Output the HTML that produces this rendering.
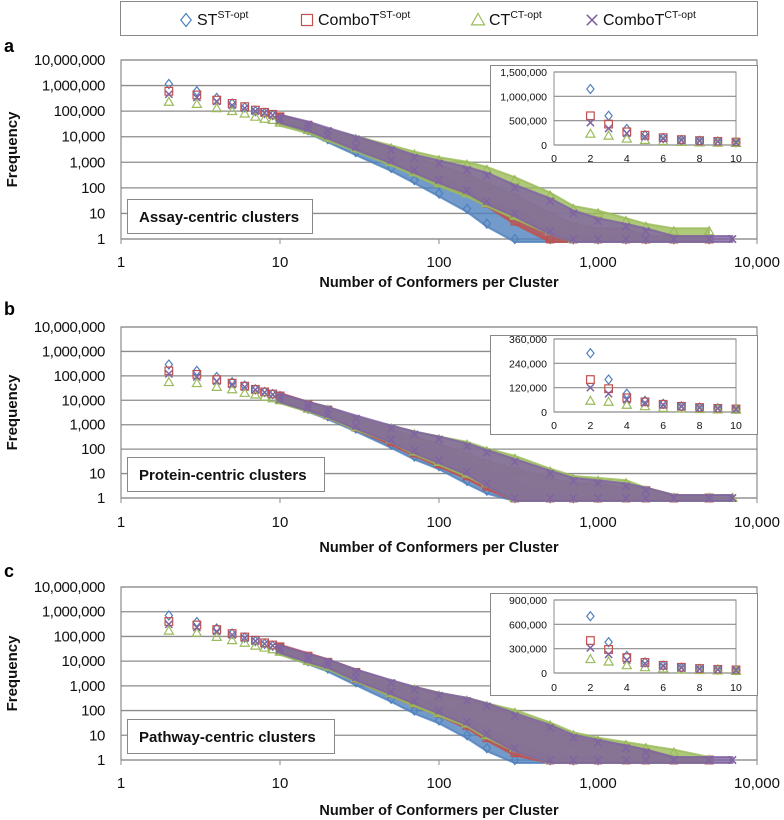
<!DOCTYPE html>
<html><head><meta charset="utf-8">
<style>
body{margin:0;background:#fff;}
svg{display:block;font-family:"Liberation Sans",sans-serif;}
</style></head>
<body>
<svg id="fig" width="784" height="820" viewBox="0 0 784 820"></svg>
<script>
// ---------- data ----------
const headSizes = [2,3,4,5,6,7,8,9,10];
const tailSizes = [10,15,20,30,50,70,100,150,200,300,500,700,1000,1500,2000,3000,5000,7000];
const seriesNames = ["ST","ComboT_ST","CT","ComboT_CT"];

// panel a (assay-centric)
const aHeadST = [1150000,600000,330000,200000,140000,100000,85000,70000,55000];
const aHeadCST = [600000,430000,270000,200000,150000,110000,90000,75000,60000];
const aHeadCT = [230000,190000,130000,100000,80000,60000,50000,45000,40000];
const aHeadCCT = [460000,340000,240000,170000,130000,100000,85000,70000,55000];
const aHiST = [55000,25000,12000,5000,1500,600,250,80,30,10,2,1,1,1,1,1,1,null];
const aLoST = [45000,18000,8000,2500,600,200,60,15,4,1,1,1,1,1,1,1,1,null];
const aHiCST = [55000,28000,15000,7000,2500,1200,600,250,120,40,8,3,2,2,1,1,1,null];
const aLoCST = [50000,22000,11000,4000,1200,500,200,70,25,5,1,1,1,1,1,1,1,null];
const aHiCT = [45000,25000,15000,8000,3500,2000,1200,800,500,200,50,15,10,5,3,2,2,null];
const aLoCT = [35000,18000,9000,3500,1000,400,150,60,25,8,2,1,1,1,1,1,1,null];
const aHiCCT = [55000,30000,17000,8000,3000,1500,900,500,300,100,30,10,5,3,2,1,1,1];
const aLoCCT = [45000,22000,11000,4000,1200,500,200,80,30,10,2,1,1,1,1,1,1,1];

// panel b (protein-centric)
const bHeadST = [290000,160000,90000,55000,40000,28000,22000,18000,15000];
const bHeadCST = [160000,115000,70000,50000,38000,28000,22000,18000,15000];
const bHeadCT = [55000,50000,35000,28000,20000,17000,14000,12000,11000];
const bHeadCCT = [120000,90000,60000,45000,35000,27000,21000,17000,14000];
const bHiST = [14000,6000,3500,1200,350,150,70,25,10,3,1,1,null,null,null,null,null,null];
const bLoST = [11000,4500,2200,700,150,50,20,5,2,1,1,1,null,null,null,null,null,null];
const bHiCST = [15000,6500,4000,1500,500,250,120,50,25,12,5,3,3,2,2,1,1,null];
const bLoCST = [12000,5000,2500,800,200,70,25,8,3,1,1,1,1,1,1,1,1,null];
const bHiCT = [12000,6000,4000,1600,700,400,250,150,80,40,12,6,5,4,2,1,1,1];
const bLoCT = [10000,4500,2500,800,250,80,30,10,4,1,1,1,1,1,1,1,1,1];
const bHiCCT = [14000,6500,4000,1800,700,400,250,130,70,30,10,5,4,3,2,1,1,1];
const bLoCCT = [11000,5000,2700,900,250,90,35,12,4,1,1,1,1,1,1,1,1,1];

// panel c (pathway-centric)
const cHeadST = [700000,380000,210000,130000,90000,65000,50000,42000,35000];
const cHeadCST = [400000,290000,190000,130000,95000,70000,55000,45000,38000];
const cHeadCT = [170000,140000,95000,70000,55000,42000,35000,30000,25000];
const cHeadCCT = [310000,230000,160000,115000,85000,65000,50000,42000,35000];
const cHiST = [32000,14000,8000,2500,700,300,120,40,15,4,1,1,1,null,null,null,null,null];
const cLoST = [26000,10000,5000,1400,300,100,40,10,3,1,1,1,1,null,null,null,null,null];
const cHiCST = [35000,16000,9000,3500,1200,600,350,200,120,50,15,6,4,3,2,1,1,null];
const cLoCST = [30000,12000,6500,2000,500,200,80,25,8,2,1,1,1,1,1,1,1,null];
const cHiCT = [28000,13000,8000,3200,1200,700,400,250,150,80,25,10,6,4,3,2,1,null];
const cLoCT = [24000,10000,6000,2000,500,200,80,30,10,3,1,1,1,1,1,1,1,null];
const cHiCCT = [33000,15000,9000,3500,1300,700,400,250,150,60,20,8,5,3,2,1,1,1];
const cLoCCT = [28000,12000,7000,2200,600,250,100,35,12,3,1,1,1,1,1,1,1,1];

const yTickLabels = ["1","10","100","1,000","10,000","100,000","1,000,000","10,000,000"];
const xTickLabels = ["1","10","100","1,000","10,000"];
const insetXTicks = [0,2,4,6,8,10];
const aInsetTicks = [0,500000,1000000,1500000];
const bInsetTicks = [0,120000,240000,360000];
const cInsetTicks = [0,300000,600000,900000];

const colors = ["#4F81BD","#C0504D","#9BBB59","#8064A2"];

const panels = [
 {id:"a",letter:"a",top:60,bottom:239,letterY:52,titleY:287,tickY:267,label:"Assay-centric clusters",lab:[127,199,185,34],
  inset:{box:[490,65,267,97],y0:145,yTop:72,xl:162},insetTicks:aInsetTicks,
  heads:[aHeadST,aHeadCST,aHeadCT,aHeadCCT],hi:[aHiST,aHiCST,aHiCT,aHiCCT],lo:[aLoST,aLoCST,aLoCT,aLoCCT]},
 {id:"b",letter:"b",top:327,bottom:498,letterY:315,titleY:552,tickY:527,label:"Protein-centric clusters",lab:[127,457,197,34],
  inset:{box:[490,335,267,99],y0:412,yTop:339,xl:429},insetTicks:bInsetTicks,
  heads:[bHeadST,bHeadCST,bHeadCT,bHeadCCT],hi:[bHiST,bHiCST,bHiCT,bHiCCT],lo:[bLoST,bLoCST,bLoCT,bLoCCT]},
 {id:"c",letter:"c",top:587,bottom:760,letterY:577,titleY:815,tickY:788,label:"Pathway-centric clusters",lab:[127,719,207,34],
  inset:{box:[490,593,267,102],y0:673,yTop:600,xl:691},insetTicks:cInsetTicks,
  heads:[cHeadST,cHeadCST,cHeadCT,cHeadCCT],hi:[cHiST,cHiCST,cHiCT,cHiCCT],lo:[cLoST,cLoCST,cLoCT,cLoCCT]}
];

// ---------- drawing ----------
const NS="http://www.w3.org/2000/svg";
const svg=document.getElementById("fig");
function mk(tag,attrs,parent){const e=document.createElementNS(NS,tag);for(const k in attrs)e.setAttribute(k,attrs[k]);(parent||svg).appendChild(e);return e;}
function txt(s,attrs,parent){const e=mk("text",attrs,parent);e.textContent=s;return e;}

const X0=121,X1=757;
function xLog(v){return X0+(X1-X0)*Math.log10(v)/4;}

function marker(g,i,x,y,r){
 r=r||4.5;
 const c=colors[i];let e;
 if(i===0){e=mk("polygon",{points:`${x},${y-r} ${x+r*0.8},${y} ${x},${y+r} ${x-r*0.8},${y}`,fill:"none",stroke:c,"stroke-width":1.2},g);}
 else if(i===1){e=mk("rect",{x:x-r*0.85,y:y-r*0.85,width:r*1.7,height:r*1.7,fill:"none",stroke:c,"stroke-width":1.2},g);}
 else if(i===2){e=mk("polygon",{points:`${x},${y-r} ${x+r},${y+r*0.75} ${x-r},${y+r*0.75}`,fill:"none",stroke:c,"stroke-width":1.2},g);}
 else{const q=r*0.8;e=mk("path",{d:`M${x-q},${y-q}L${x+q},${y+q}M${x+q},${y-q}L${x-q},${y+q}`,stroke:c,"stroke-width":1.5},g);}
 
 
}

// legend
const leg=mk("g",{});


mk("rect",{x:120.5,y:1.5,width:637,height:34,fill:"#fff",stroke:"#888"},leg);
const legItems=[[186,"ST","ST-opt"],[307,"ComboT","ST-opt"],[478,"CT","CT-opt"],[592,"ComboT","CT-opt"]];
legItems.forEach((it,i)=>{
 const g=mk("g",{},leg);
 
 
 marker(g,i,it[0],20,6.5);
 const t=txt("",{x:it[0]+11,y:25,"font-size":16,fill:"#111"},g);
 const a=document.createElementNS(NS,"tspan");a.textContent=it[1];t.appendChild(a);
 const b=document.createElementNS(NS,"tspan");b.textContent=it[2];b.setAttribute("font-size","10.5");b.setAttribute("dy","-7");t.appendChild(b);
});

panels.forEach(P=>{
 const g=mk("g",{});
 
 
 const yLog=v=>P.bottom-(P.bottom-P.top)*Math.log10(v)/7;
 txt(P.letter,{x:4,y:P.letterY,"font-size":18,"font-weight":"bold"},g);
 yTickLabels.forEach((l,k)=>{
  const y=P.bottom-(P.bottom-P.top)*k/7;
  const gl=mk("line",{x1:X0,x2:X1,y1:y,y2:y,stroke:"#8c8c8c","stroke-width":1.3},g);
  
  
  const t=txt(l,{x:105,y:y+5,"font-size":15,"text-anchor":"end",fill:"#111","letter-spacing":"-0.4"},g);
  
  
 });
 mk("rect",{x:X0,y:P.top,width:X1-X0,height:P.bottom-P.top,fill:"none",stroke:"#8c8c8c","stroke-width":1.2},g);
 xTickLabels.forEach((l,k)=>{
  const x=X0+(X1-X0)*k/4;
  mk("line",{x1:x,x2:x,y1:P.bottom,y2:P.bottom+5,stroke:"#8c8c8c"},g);
  const t=txt(l,{x:x,y:P.tickY,"font-size":15,"text-anchor":"middle",fill:"#111"},g);
  
  
 });
 const xt=txt("Number of Conformers per Cluster",{x:439,y:P.titleY,"font-size":14.5,"font-weight":"bold","text-anchor":"middle",fill:"#111"},g);
 
 
 const ym=(P.top+P.bottom)/2;
 const yt=txt("Frequency",{x:0,y:0,"font-size":15,"font-weight":"bold","text-anchor":"middle",transform:`translate(17,${ym}) rotate(-90)`,fill:"#111"},g);
 
 

 for(let i=0;i<4;i++){
  const sg=mk("g",{},g);
  
  
  const hi=P.hi[i],lo=P.lo[i];
  const top=[],bot=[];
  tailSizes.forEach((s,k)=>{ if(hi[k]!=null){top.push([xLog(s),yLog(hi[k])]);bot.push([xLog(s),yLog(lo[k])]);} });
  const pts=top.map(p=>[p[0],p[1]-3]).concat(bot.reverse().map(p=>[p[0],p[1]+3]));
  const band=mk("polygon",{points:pts.map(p=>p.join(",")).join(" "),fill:colors[i],"fill-opacity":0.8,stroke:colors[i],"stroke-width":2,"stroke-opacity":0.8},sg);
  
  
  tailSizes.forEach((s,k)=>{ if(hi[k]!=null){marker(sg,i,xLog(s),yLog(hi[k]));marker(sg,i,xLog(s),yLog(lo[k]));} });
  P.heads[i].forEach((v,k)=>marker(sg,i,xLog(headSizes[k]),yLog(v)));
 }

 const lb=mk("g",{},g);
 
 
 mk("rect",{x:P.lab[0]+.5,y:P.lab[1]+.5,width:P.lab[2],height:P.lab[3],fill:"#fff",stroke:"#888"},lb);
 txt(P.label,{x:P.lab[0]+12,y:P.lab[1]+23,"font-size":15,"font-weight":"bold",fill:"#111"},lb);

 const I=P.inset;
 const ig=mk("g",{},g);
 
 
 mk("rect",{x:I.box[0]+.5,y:I.box[1]+.5,width:I.box[2],height:I.box[3],fill:"#fff",stroke:"#888"},ig);
 const ix0=554,ix1=736;
 const ixs=v=>ix0+(ix1-ix0)*v/10;
 const maxT=P.insetTicks[P.insetTicks.length-1];
 const iys=v=>I.y0-(I.y0-I.yTop)*v/maxT;
 P.insetTicks.forEach(v=>{
  const y=iys(v);
  mk("line",{x1:ix0,x2:ix1,y1:y,y2:y,stroke:"#8c8c8c","stroke-width":1.2},ig);
  const t=txt(v.toLocaleString("en-US"),{x:ix0-7,y:y+4,"font-size":10.5,"text-anchor":"end",fill:"#111"},ig);
  
  
 });
 mk("rect",{x:ix0,y:I.yTop,width:ix1-ix0,height:I.y0-I.yTop,fill:"none",stroke:"#8c8c8c"},ig);
 insetXTicks.forEach(v=>{
  const t=txt(String(v),{x:ixs(v),y:I.xl,"font-size":10.5,"text-anchor":"middle",fill:"#111"},ig);
  
  
 });
 for(let i=0;i<4;i++){
  P.heads[i].forEach((v,k)=>marker(ig,i,ixs(headSizes[k]),iys(v)));
 }
});
</script>
</body></html>
